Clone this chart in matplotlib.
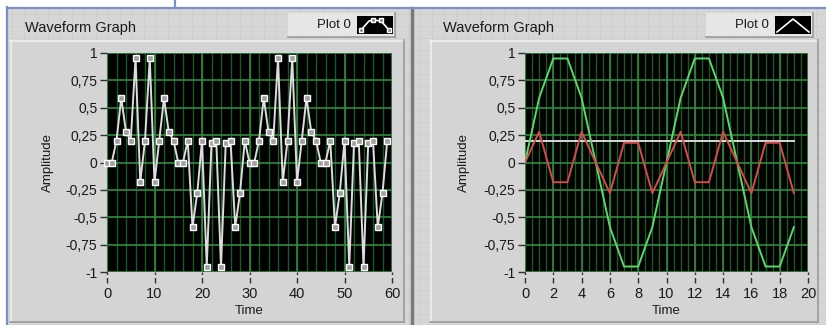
import numpy as np
import matplotlib.pyplot as plt
from matplotlib.patches import Rectangle
from matplotlib.lines import Line2D

# values (20 samples each)
sine = [0, 0.59, 0.95, 0.95, 0.59, 0, -0.59, -0.95, -0.95, -0.59,
        0, 0.59, 0.95, 0.95, 0.59, 0, -0.59, -0.95, -0.95, -0.59]
tri = [0, 0.28, -0.18, -0.18, 0.28, 0, -0.28, 0.18, 0.18, -0.28,
       0, 0.28, -0.18, -0.18, 0.28, 0, -0.28, 0.18, 0.18, -0.28]
const = [0.2] * 20
# left graph: the three signals interleaved into one 60 point waveform
mixed = np.column_stack([sine, tri, const]).ravel()

yticks = [1, 0.75, 0.5, 0.25, 0, -0.25, -0.5, -0.75, -1]
ylabels = ["1", "0,75", "0,5", "0,25", "0", "-0,25", "-0,5", "-0,75", "-1"]

W, H = 826, 325
plt.rcParams['font.family'] = ['Liberation Sans', 'DejaVu Sans']

fig = plt.figure(figsize=(W / 100, H / 100), dpi=100)
fig.patch.set_facecolor('#d6d6d6')

def fx(x):
    return x / W

def fy(y):
    return 1 - y / H

def rect(x0, y0, x1, y1, **kw):
    fig.patches.append(Rectangle((fx(x0), fy(y1)), fx(x1) - fx(x0), fy(y0) - fy(y1),
                                 transform=fig.transFigure, **kw))

def fline(xs, ys, **kw):
    fig.lines.append(Line2D([fx(v) for v in xs], [fy(v) for v in ys],
                            transform=fig.transFigure, **kw))

# white border area + blue selection lines
rect(0, 0, W, 7, facecolor='white', edgecolor='none', zorder=0)
rect(0, 0, 7, H, facecolor='white', edgecolor='none', zorder=0)
# faint panel grid in the background
for gx in range(12, W, 12):
    fline([gx, gx], [8, H], color='#cdcdcd', lw=0.5, zorder=0.1)
for gy in range(14, H, 12):
    fline([8, W], [gy, gy], color='#cdcdcd', lw=0.5, zorder=0.1)
fline([7, W], [7.5, 7.5], color='#7b8fd0', lw=1.6, zorder=5)
fline([7.5, 7.5], [7, H], color='#7b8fd0', lw=1.6, zorder=5)
fline([175, 175], [0, 7], color='#7b8fd0', lw=1.6, zorder=5)
fline([412, 412], [8, H], color='#7a7a7a', lw=2.5, zorder=1)

panels = [
    dict(frame=(10, 40, 404, 322), ax=(107, 53, 392, 272), xmax=60,
         xticks=list(range(0, 61, 10)), xminor=list(range(0, 61, 2)),
         title_x=25, ylab_x=54, legend=(288, 395), icon=(357, 393), kind='left'),
    dict(frame=(430, 40, 818, 322), ax=(525, 53, 808, 272), xmax=20,
         xticks=list(range(0, 21, 2)), xminor=list(np.arange(0, 20.01, 0.5)),
         title_x=443, ylab_x=470, legend=(706, 813), icon=(775, 811), kind='right'),
]

for p in panels:
    x0, y0, x1, y1 = p['frame']
    rect(x0, y0, x1, y1, facecolor='#d4d4d4', edgecolor='none', zorder=1)
    fline([x0, x1], [y0 + 1, y0 + 1], color='#eeeeee', lw=1.2, zorder=2)
    fline([x0 + 1, x0 + 1], [y0, y1], color='#eeeeee', lw=1.2, zorder=2)
    fline([x0, x1], [y1, y1], color='#9a9a9a', lw=1.2, zorder=2)
    fline([x1, x1], [y0, y1], color='#9a9a9a', lw=1.2, zorder=2)

    fig.text(fx(p['title_x']), fy(28), "Waveform Graph", fontsize=10.5,
             color='#1a1a1a', va='center', ha='left', zorder=6)
    lx0, lx1 = p['legend']
    rect(lx0, 13, lx1, 37, facecolor='#e6e6e6', edgecolor='none', zorder=3)
    fline([lx0, lx1], [37, 37], color='#9c9c9c', lw=1.2, zorder=4)
    fline([lx1, lx1], [13, 37], color='#9c9c9c', lw=1.2, zorder=4)
    fig.text(fx(lx0 + 29), fy(25), "Plot 0", fontsize=9.5, color='#1a1a1a',
             va='center', ha='left', zorder=6)
    ix0, ix1 = p['icon']
    rect(ix0, 16, ix1, 34, facecolor='black', edgecolor='none', zorder=4)

    ax0, ay0, ax1, ay1 = p['ax']
    ax = fig.add_axes([fx(ax0), fy(ay1), fx(ax1) - fx(ax0), fy(ay0) - fy(ay1)])
    ax.set_zorder(10)
    ax.set_facecolor('black')
    ax.set_xlim(0, p['xmax'])
    ax.set_ylim(-1, 1)
    for v in p['xminor']:
        ax.axvline(v, color='#1b5a26', lw=1.0, zorder=1)
    for v in p['xticks']:
        ax.axvline(v, color='#2f8a3f', lw=1.2, zorder=1.5)
    for v in yticks:
        ax.axhline(v, color='#2f8a3f', lw=1.2, zorder=1.5)
    ax.set_xticks(p['xticks'])
    ax.set_xticklabels([str(v) for v in p['xticks']], fontsize=10.5, color='#1a1a1a')
    ax.set_yticks(yticks)
    ax.set_yticklabels(ylabels, fontsize=10, color='#1a1a1a')
    ax.tick_params(axis='y', direction='out', length=5, width=1, color='#303030', pad=2)
    ax.tick_params(axis='x', direction='out', length=8, width=1, color='#303030', pad=3)
    for s in ax.spines.values():
        s.set_visible(False)
    ax.set_xlabel("Time", fontsize=9.5, color='#1a1a1a', labelpad=3)
    ax.set_ylabel("Amplitude", fontsize=9.5, color='#1a1a1a')
    ax.yaxis.set_label_coords(fx(p['ylab_x'] - ax0) / (fx(ax1) - fx(ax0)), 0.5)

    # small gap between the plot area and the x tick marks
    fline([ax0 - 2, ax1 + 2], [275.5, 275.5], color='#d4d4d4', lw=2.2, zorder=11)

    if p['kind'] == 'left':
        ax.plot(np.arange(len(mixed)), mixed, color='#dcdcdc', lw=1.4, marker='s',
                markersize=5, markerfacecolor='#a0a0a0', markeredgecolor='white',
                markeredgewidth=1.0, zorder=3, clip_on=False)
        # legend icon
        fline([ix0 + 4, ix0 + 12, ix0 + 16, ix0 + 24, ix0 + 32],
              [30, 21, 20, 21, 30], color='white', lw=1.2, zorder=5)
        for mx, my in [(ix0 + 4, 30), (ix0 + 16, 20), (ix0 + 24, 20), (ix0 + 32, 30)]:
            fline([mx], [my], color='white', marker='s', markersize=3,
                  markerfacecolor='#888888', markeredgecolor='white', zorder=6)
    else:
        x = np.arange(len(sine))
        ax.plot(x, const, color='#d8d8d8', lw=1.4, zorder=3)
        ax.plot(x, sine, color='#5ad86a', lw=1.4, zorder=3)
        ax.plot(x, tri, color='#d84a4a', lw=1.4, zorder=3)
        fline([ix0 + 2, ix0 + 18, ix0 + 34], [32, 19, 32], color='white', lw=1.2, zorder=5)

fig.savefig('out.png', dpi=100)
